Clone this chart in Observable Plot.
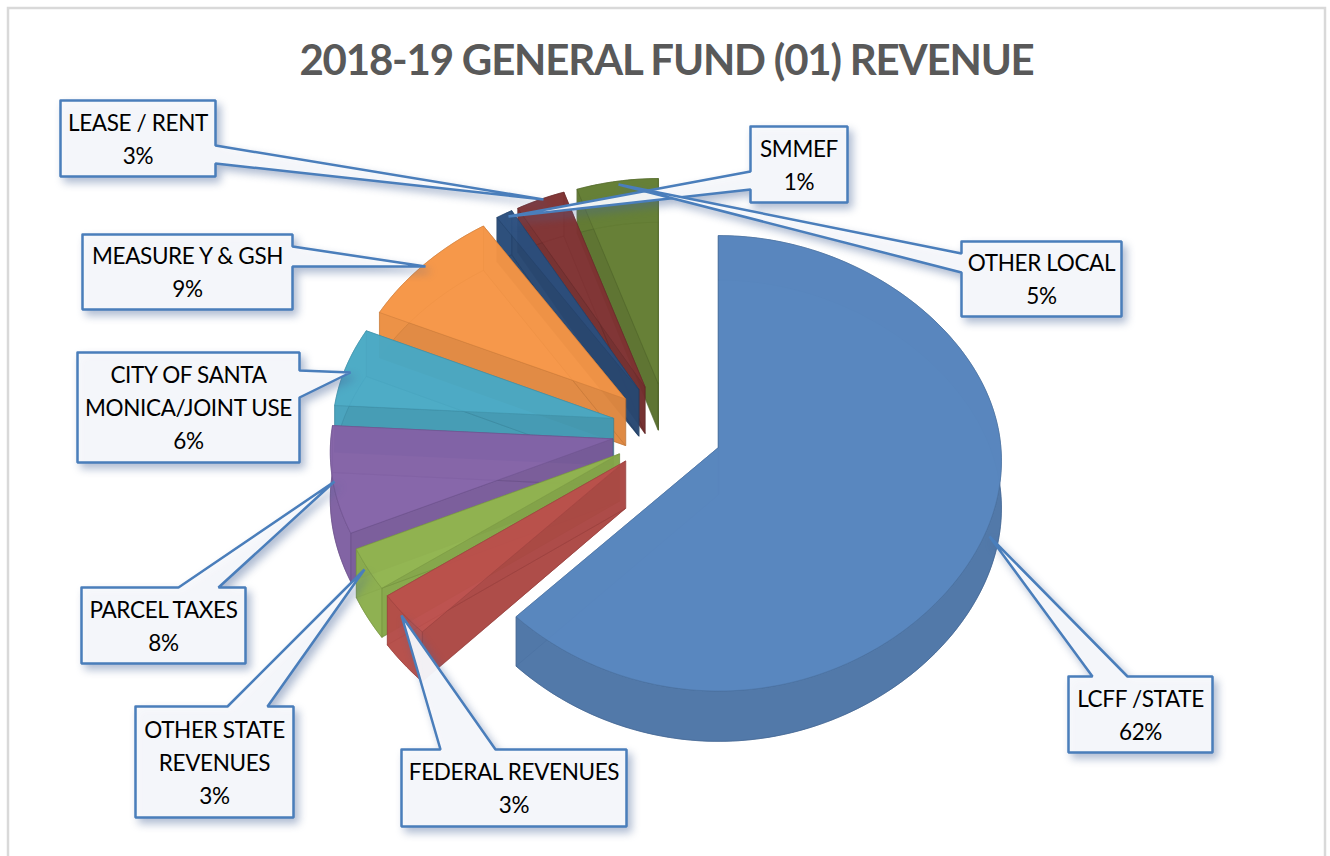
<!DOCTYPE html>
<html><head><meta charset="utf-8">
<style>html,body{margin:0;padding:0;background:#fff;overflow:hidden}svg{display:block}
.ttl text{letter-spacing:-1.2px}.lbl text{letter-spacing:-0.35px}</style>
<script src="https://cdn.jsdelivr.net/npm/d3@7"></script>
<script src="https://cdn.jsdelivr.net/npm/@observablehq/plot@0.6"></script>
</head><body><div id="chart"></div>
<script>
const titleText = "2018-19 GENERAL FUND (01) REVENUE";
const categories = ["LCFF /STATE","FEDERAL REVENUES","OTHER STATE REVENUES","PARCEL TAXES","CITY OF SANTA MONICA/JOINT USE","MEASURE Y & GSH","SMMEF","LEASE / RENT","OTHER LOCAL"];
const values = [62,3,3,8,6,9,1,3,5];
const sliceColors = ["#5886be","#bd504c","#92b650","#8463a8","#4aaac6","#f79646","#2b4f7e","#7f3232","#637d32"];
const labelLines = ["LCFF /STATE\n62%","FEDERAL REVENUES\n3%","OTHER STATE\nREVENUES\n3%","PARCEL TAXES\n8%","CITY OF SANTA\nMONICA/JOINT USE\n6%","MEASURE Y & GSH\n9%","SMMEF\n1%","LEASE / RENT\n3%","OTHER LOCAL\n5%"];
// callout layout: box [x1,y1,x2,y2], pointer base [a,b] on a side, pointer tip [x,y]
const calloutBoxes = [[1068,676,1212,752],[401,749,626,826],[135,706,293,817],[81,587,245,663],[77,352,299,462],[82,234,292,309],[750,126,847,202],[60,100,215,176],[961,241,1121,316]];
const calloutSides = ["top","top","top","top","right","right","left","right","left"];
const calloutBases = [[1092,1127],[440,495],[227,267],[178,218],[370,397],[246,266],[171,189],[145,163],[253,272]];
const calloutTips = [[989,536],[401,615],[364,569],[334,481],[350,372],[425,266],[508,216],[543,199],[618,184]];

// pie geometry: a tilted disc, each slice pulled out along its bisector
const cx = 667, cy = 430, R = 281, explode = 55.5, depth = 47;
const apexTilt = 0.85, persp = 4500, rimPersp = 2250;
const rimY = r => 0.75 * r + 6.7e-7 * r * r * r + 0.0002 * r * r;
const project = (ox, oy, rx, ry, z) => {
  const s = 1 / (1 - (oy + ry) / persp);
  const sr = 1 / (1 - oy / rimPersp);
  return [cx + ox + rx * s, cy + oy * apexTilt + rimY(ry) * sr + z * s];
};
const arcs = d3.pie().sort(null).value(d => d)(values);
const faces = [];
function pushFace(id, color, alpha, a, b) {
  const c = d3.color(color); c.opacity = alpha;
  const fill = c.formatRgb(), edge = d3.color(color).darker(0.45).formatHex();
  a.forEach((p, i) => faces.push({id, fill, edge, x1: p[0], y1: p[1], x2: b[i][0], y2: b[i][1]}));
}
const drawOrder = [8,7,6,5,4,3,2,1,0];
for (const i of drawOrder) {
  const {startAngle: a0, endAngle: a1} = arcs[i];
  const mid = (a0 + a1) / 2;
  const ox = explode * Math.sin(mid), oy = -explode * Math.cos(mid);
  const n = Math.max(2, Math.ceil((a1 - a0) / 0.02));
  const ang = d3.range(n + 1).map(j => a0 + (a1 - a0) * j / n);
  const rim = z => ang.map(t => project(ox, oy, R * Math.sin(t), -R * Math.cos(t), z));
  const apex = z => project(ox, oy, 0, 0, z);
  const topRim = rim(0), botRim = rim(depth);
  const base = d3.color(sliceColors[i]);
  const alpha = i === 0 ? 0.96 : 0.84;
  const wall = base.darker(0.3).formatHex();
  const front = base.darker(i === 0 ? 0.4 : 0.12).formatHex();
  pushFace(`b${i}`, base.darker(0.1).formatHex(), 0.84, ang.map(() => apex(depth)), botRim);
  pushFace(`s${i}`, wall, 0.84, [apex(0), topRim[0]], [apex(depth), botRim[0]]);
  pushFace(`e${i}`, wall, 0.84, [apex(0), topRim[n]], [apex(depth), botRim[n]]);
  pushFace(`o${i}`, front, 0.84, topRim, botRim);
  pushFace(`t${i}`, sliceColors[i], alpha, ang.map(() => apex(0)), topRim);
}

// callout outlines
const callouts = [];
calloutBoxes.forEach(([x1,y1,x2,y2], i) => {
  const [a,b] = calloutBases[i], tip = calloutTips[i], side = calloutSides[i];
  let pts;
  if (side === "top") pts = [[x1,y1],[a,y1],tip,[b,y1],[x2,y1],[x2,y2],[x1,y2],[x1,y1]];
  else if (side === "right") pts = [[x1,y1],[x2,y1],[x2,a],tip,[x2,b],[x2,y2],[x1,y2],[x1,y1]];
  else pts = [[x1,y1],[x2,y1],[x2,y2],[x1,y2],[x1,b],tip,[x1,a],[x1,y1]];
  pts.forEach(p => callouts.push({id: i, x: p[0], y: p[1]}));
});
const labels = labelLines.map((t, i) => ({t, x: (calloutBoxes[i][0] + calloutBoxes[i][2]) / 2, y: (calloutBoxes[i][1] + calloutBoxes[i][3]) / 2 - 2}));

const chart = Plot.plot({
  width: 1330, height: 856, margin: 0,
  x: {domain: [0,1330], range: [0,1330], axis: null},
  y: {domain: [0,856], range: [0,856], axis: null},
  color: {type: "identity"},
  style: {background: "#fff", fontFamily: "Lato, sans-serif"},
  marks: [
    Plot.rect([0], {x1: () => 8, x2: () => 1325, y1: () => 8, y2: () => 870, stroke: "#d9d9d9", strokeWidth: 2.5, fill: "#fff"}),
    Plot.text([titleText], {x: () => 666, y: () => 61, text: d => d, fontSize: 42, fontWeight: 700, fill: "#595959", fontFamily: "Lato, sans-serif", className: "ttl"}),
    Plot.area(faces, {x1: "x1", y1: "y1", x2: "x2", y2: "y2", z: "id", fill: "fill", stroke: "edge", strokeWidth: 1, strokeOpacity: 0.55}),
    Plot.line(callouts, {x: "x", y: "y", z: "id", fill: "#f8f9fc", fillOpacity: 0.95, stroke: "#4a7ebb", strokeWidth: 2.5, strokeLinejoin: "miter", curve: "linear", imageFilter: "drop-shadow(4px 5px 4px rgba(70,100,150,0.45))"}),
    Plot.text(labels, {x: "x", y: "y", text: "t", fontSize: 22.5, lineHeight: 1.47, fill: "#000", fontFamily: "Lato, sans-serif", className: "lbl"})
  ]
});
document.getElementById("chart").append(chart);
</script></body></html>
